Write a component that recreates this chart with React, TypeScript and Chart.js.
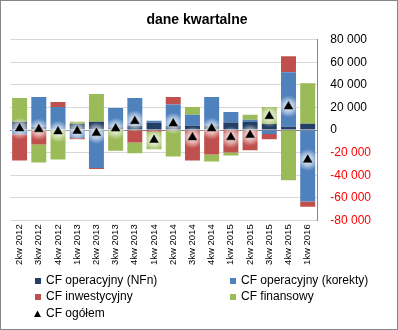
import React, { useEffect, useRef } from 'react';
import { Chart, registerables } from 'chart.js';

Chart.register(...registerables);

const categories = [
  '2kw 2012', '3kw 2012', '4kw 2012', '1kw 2013', '2kw 2013', '3kw 2013', '4kw 2013', '1kw 2014',
  '2kw 2014', '3kw 2014', '4kw 2014', '1kw 2015', '2kw 2015', '3kw 2015', '4kw 2015', '1kw 2016',
];
const cfNFn = [7300, 2900, 500, 5600, 7300, 2500, 3800, 6400, 3800, 3800, 3800, 6600, 7600, 5300, 2900, 5600];
const cfKorekty = [-3800, 26500, 20000, -7000, -33700, 17100, 24600, 1800, 18800, 9700, 25500, 9500, 1500, -3500, 48400, -63300];
const cfInwest = [-23200, -12900, 4400, -1200, -900, 0, -11100, -1500, 6700, -27000, -21700, -19900, -17900, -4700, 14100, -4700];
const cfFinans = [21100, -15800, -26100, 1800, 24600, -18300, -9400, -15500, -23500, 7000, -6200, -2600, 4400, 15200, -44500, 36000];
const cfTotal = [1400, 700, -1200, -800, -2700, 1300, 7900, -8800, 5800, -6500, 1400, -6400, -4400, 12300, 20900, -26400];

const seriesLabels = ['CF operacyjny (NFn)', 'CF operacyjny (korekty)', 'CF inwestycyjny', 'CF finansowy', 'CF ogółem'];
const yMin = -80000;
const yMax = 80000;
const yStep = 20000;

const FONT = "'Liberation Sans', Arial, sans-serif";
const COLORS = ['#243F66', '#4F81BD', '#C0504D', '#9BBB59', '#000000'];

function fmt(v: number): string {
  const s = String(Math.abs(v)).replace(/\B(?=(\d{3})+(?!\d))/g, ' ');
  return v < 0 ? '-' + s : s;
}

const framePlugin = {
  id: 'frame',
  beforeDraw(chart: any) {
    const { ctx, width, height } = chart;
    ctx.save();
    ctx.fillStyle = '#ffffff';
    ctx.fillRect(0, 0, width, height);
    ctx.restore();
  },
  afterDraw(chart: any) {
    const { ctx, width, height } = chart;
    ctx.save();
    ctx.strokeStyle = '#868686';
    ctx.lineWidth = 1;
    ctx.strokeRect(0.5, 0.5, width - 1, height - 1);
    // legend
    const cols = [35, 230];
    const rows = [height - 49, height - 33, height - 16];
    ctx.font = `12px ${FONT}`;
    ctx.textBaseline = 'middle';
    ctx.textAlign = 'left';
    chart.data.datasets.forEach((ds: any, i: number) => {
      const x = cols[i % 2];
      const y = rows[Math.floor(i / 2)];
      ctx.fillStyle = ds.legendColor;
      if (ds.type === 'line') {
        ctx.beginPath();
        ctx.moveTo(x + 2.5, y - 3.5);
        ctx.lineTo(x + 6, y + 3);
        ctx.lineTo(x - 1, y + 3);
        ctx.closePath();
        ctx.fill();
      } else {
        ctx.fillRect(x, y - 3, 6, 6);
      }
      ctx.fillStyle = '#000000';
      ctx.fillText(ds.label, x + 11, y);
    });
    ctx.restore();
  },
  beforeDatasetDraw(chart: any, args: any) {
    const ds = chart.data.datasets[args.index];
    if (ds.type !== 'line') return;
    const ctx = chart.ctx;
    const meta = chart.getDatasetMeta(args.index);
    ctx.save();
    meta.data.forEach((pt: any) => {
      const g = ctx.createRadialGradient(pt.x, pt.y, 0, pt.x, pt.y, 11);
      g.addColorStop(0, 'rgba(255,255,255,0.9)');
      g.addColorStop(0.5, 'rgba(255,255,255,0.55)');
      g.addColorStop(1, 'rgba(255,255,255,0)');
      ctx.fillStyle = g;
      ctx.beginPath();
      ctx.arc(pt.x, pt.y, 11, 0, Math.PI * 2);
      ctx.fill();
    });
    ctx.restore();
  },
};

export default function App() {
  const ref = useRef<HTMLCanvasElement | null>(null);
  useEffect(() => {
    document.body.style.margin = '0';
    if (!ref.current) return;
    const barCommon = { stack: 'cf', order: 1, barPercentage: 0.78, categoryPercentage: 1 };
    const chart = new Chart(ref.current, {
      type: 'bar',
      data: {
        labels: categories,
        datasets: [
          { type: 'bar', label: seriesLabels[0], data: cfNFn, backgroundColor: COLORS[0], legendColor: COLORS[0], ...barCommon } as any,
          { type: 'bar', label: seriesLabels[1], data: cfKorekty, backgroundColor: COLORS[1], legendColor: COLORS[1], ...barCommon } as any,
          { type: 'bar', label: seriesLabels[2], data: cfInwest, backgroundColor: COLORS[2], legendColor: COLORS[2], ...barCommon } as any,
          { type: 'bar', label: seriesLabels[3], data: cfFinans, backgroundColor: COLORS[3], legendColor: COLORS[3], ...barCommon } as any,
          {
            type: 'line', label: seriesLabels[4], data: cfTotal, stack: 'total', order: -1,
            showLine: false, pointStyle: 'triangle', pointRadius: 5, pointHoverRadius: 5,
            backgroundColor: '#000000', borderColor: '#000000', borderWidth: 0.5, legendColor: '#000000',
          } as any,
        ],
      },
      options: {
        responsive: false,
        animation: false,
        devicePixelRatio: 1,
        layout: { padding: { left: 10, right: 14, top: 0, bottom: 61 } },
        plugins: {
          legend: { display: false },
          tooltip: { enabled: false },
          title: {
            display: true,
            text: 'dane kwartalne',
            color: '#000000',
            font: { family: FONT, size: 14, weight: 'bold' },
            padding: { top: 12, bottom: 11 },
          },
        },
        scales: {
          x: {
            stacked: true,
            grid: { display: false, drawTicks: false },
            border: { display: false },
            ticks: {
              minRotation: 90, maxRotation: 90, autoSkip: false, padding: 4,
              color: '#000000', font: { family: FONT, size: 9.5 },
            },
          },
          y: {
            stacked: true,
            position: 'right',
            min: yMin,
            max: yMax,
            grid: {
              drawTicks: false,
              color: (c: any) => (c.tick && c.tick.value === 0 ? '#868686' : '#D9D9D9'),
              lineWidth: 1,
            },
            border: { display: true, color: '#868686' },
            ticks: {
              stepSize: yStep,
              padding: 13,
              color: (c: any) => (c.tick && c.tick.value < 0 ? '#FF0000' : '#000000'),
              font: { family: FONT, size: 12 },
              callback: (v: any) => fmt(Number(v)),
            },
          },
        },
      },
      plugins: [framePlugin],
    });
    return () => chart.destroy();
  }, []);
  return (
    <div style={{ width: 398, height: 330 }}>
      <canvas ref={ref} width={398} height={330} style={{ width: 398, height: 330, display: 'block' }} />
    </div>
  );
}
